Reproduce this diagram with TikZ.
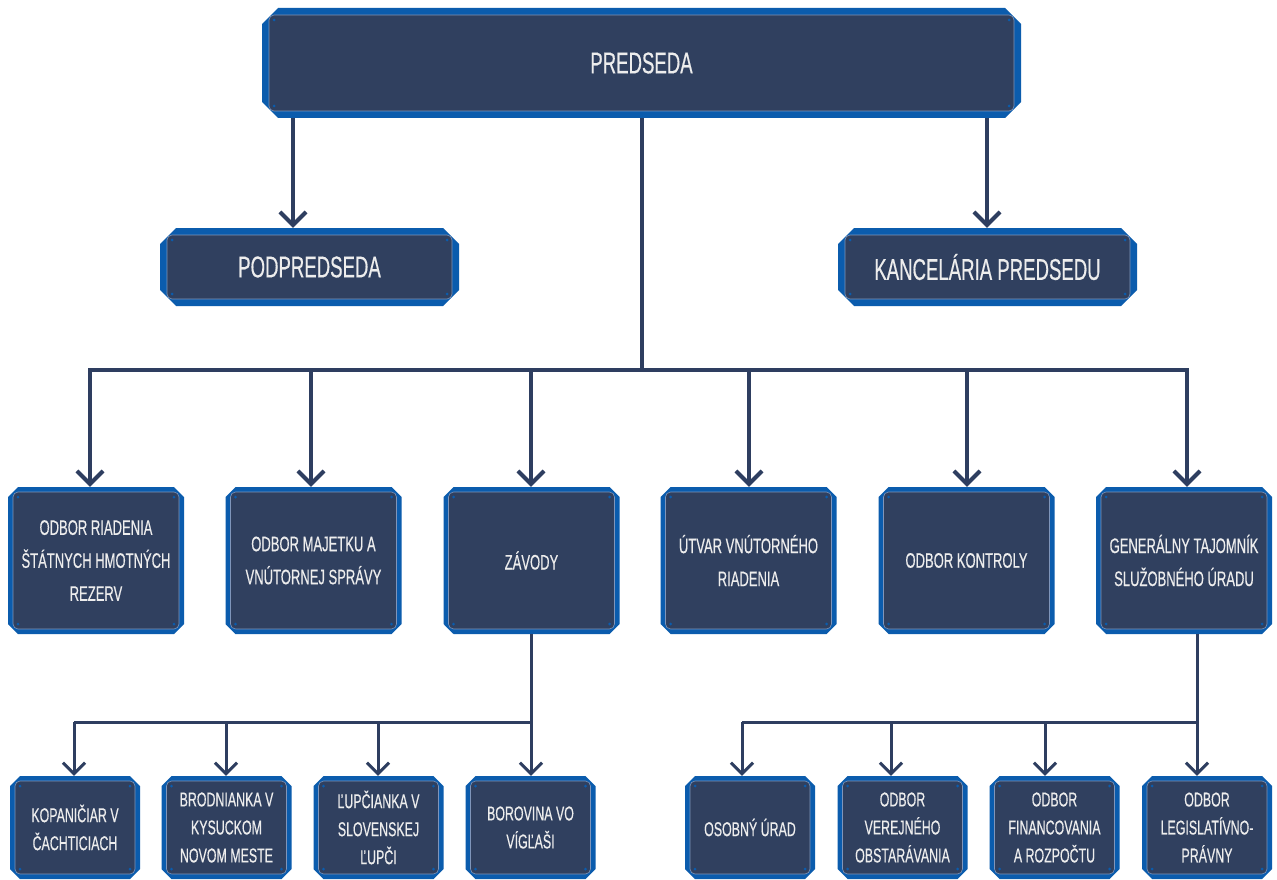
\documentclass[tikz,border=0pt]{standalone}
\usepackage{fontspec}
\setmainfont[FakeStretch=0.62, FakeBold=0.4]{Liberation Sans}
\usetikzlibrary{arrows.meta,shapes.misc}
\definecolor{boxblue}{HTML}{0B5CAD}
\definecolor{navy}{HTML}{30405F}
\definecolor{edge}{HTML}{7F95BA}
\definecolor{linec}{HTML}{2E3E60}
\definecolor{txt}{HTML}{EDEDED}
\tikzset{
  orgbox/.style 2 args={chamfered rectangle, chamfered rectangle xsep=#1,
    chamfered rectangle ysep=#1, fill=boxblue, text=txt, align=center,
    inner sep=0pt,
    path picture={
      \fill[navy,draw=edge,line width=0.6pt,rounded corners=5pt]
        ([xshift=#2,yshift=-#2]path picture bounding box.north west) rectangle
        ([xshift=-#2,yshift=#2]path picture bounding box.south east);
      \fill[boxblue] ([xshift=#2+5pt,yshift=-#2-5pt]path picture bounding box.north west) circle (1.5pt);
      \fill[boxblue] ([xshift=-#2-5pt,yshift=-#2-5pt]path picture bounding box.north east) circle (1.5pt);
      \fill[boxblue] ([xshift=#2+5pt,yshift=#2+5pt]path picture bounding box.south west) circle (1.5pt);
      \fill[boxblue] ([xshift=-#2-5pt,yshift=#2+5pt]path picture bounding box.south east) circle (1.5pt);
    }},
  topbox/.style={orgbox={8pt}{7pt}, font=\fontsize{30}{34}\selectfont},
  midbox/.style={orgbox={5pt}{5pt}, minimum width=176pt, minimum height=147pt,
    font=\fontsize{21}{33}\selectfont},
  lowbox/.style={orgbox={5pt}{5pt}, minimum width=130pt, minimum height=103pt,
    font=\fontsize{20}{28}\selectfont},
  ln/.style={draw=linec, line width=4pt},
  lnt/.style={draw=linec, line width=3pt},
  arr/.style={ln, -{Straight Barb[length=13pt,width=26pt]}},
  arrt/.style={lnt, -{Straight Barb[length=11pt,width=22pt]}},
}
\begin{document}
\begin{tikzpicture}[x=1pt,y=-1pt]
\useasboundingbox[fill=white] (0,0) rectangle (1277,880);
% top
\node[topbox, minimum width=759pt, minimum height=110pt] (pred) at (641.5,63) {PREDSEDA};
\node[topbox, minimum width=299pt, minimum height=78pt] (podp) at (309.5,267) {PODPREDSEDA};
\node[topbox, minimum width=299pt, minimum height=78pt] (kanc) at (987.5,267) {KANCELÁRIA PREDSEDU};
% row 2
\node[midbox] (b1) at (96,560.5) {ODBOR RIADENIA\\ŠTÁTNYCH HMOTNÝCH\\REZERV};
\node[midbox] (b2) at (313.5,560.5) {ODBOR MAJETKU A\\VNÚTORNEJ SPRÁVY};
\node[midbox] (b3) at (531.5,560.5) {ZÁVODY};
\node[midbox] (b4) at (748.5,560.5) {ÚTVAR VNÚTORNÉHO\\RIADENIA};
\node[midbox] (b5) at (966.5,560.5) {ODBOR KONTROLY};
\node[midbox] (b6) at (1184,560.5) {GENERÁLNY TAJOMNÍK\\SLUŽOBNÉHO ÚRADU};
% row 3
\node[lowbox] (c1) at (75,827.5) {KOPANIČIAR V\\ČACHTICIACH};
\node[lowbox] (c2) at (226.5,827.5) {BRODNIANKA V\\KYSUCKOM\\NOVOM MESTE};
\node[lowbox] (c3) at (378.5,827.5) {ĽUPČIANKA V\\SLOVENSKEJ\\ĽUPČI};
\node[lowbox] (c4) at (530.5,827.5) {BOROVINA VO\\VÍGĽAŠI};
\node[lowbox] (d1) at (750,827.5) {OSOBNÝ ÚRAD};
\node[lowbox] (d2) at (902.5,827.5) {ODBOR\\VEREJNÉHO\\OBSTARÁVANIA};
\node[lowbox] (d3) at (1054.5,827.5) {ODBOR\\FINANCOVANIA\\A ROZPOČTU};
\node[lowbox] (d4) at (1207,827.5) {ODBOR\\LEGISLATÍVNO-\\PRÁVNY};
% top connectors
\coordinate (p1) at (293,0);
\coordinate (p2) at (987,0);
\draw[arr] (pred.south -| p1) -- (podp.north -| p1);
\draw[arr] (pred.south -| p2) -- (kanc.north -| p2);
% trunk and bar
\coordinate (j1) at (90,370);
\coordinate (j2) at (311,370);
\coordinate (j3) at (531,370);
\coordinate (j4) at (749,370);
\coordinate (j5) at (967,370);
\coordinate (j6) at (1187,370);
\draw[ln] (pred.south) -- (pred.south |- j1);
\draw[ln, line cap=rect] (j1) -- (j6);
\foreach \j/\b in {j1/b1,j2/b2,j3/b3,j4/b4,j5/b5,j6/b6}
  \draw[arr] (\j) -- (\j |- \b.north);
% zavody branch
\coordinate (k1) at (74,722);
\coordinate (k2) at (226,722);
\coordinate (k3) at (378,722);
\coordinate (k4) at (531,722);
\draw[lnt] (b3.south -| k4) -- (k4);
\draw[lnt] (k1) -- (k4);
\foreach \k/\c in {k1/c1,k2/c2,k3/c3,k4/c4}
  \draw[arrt] (\k) -- (\k |- \c.north);
% generalny branch
\coordinate (m1) at (742,722);
\coordinate (m2) at (891,722);
\coordinate (m3) at (1045,722);
\coordinate (m4) at (1197,722);
\draw[lnt] (b6.south -| m4) -- (m4);
\draw[lnt] (m1) -- (m4);
\foreach \m/\d in {m1/d1,m2/d2,m3/d3,m4/d4}
  \draw[arrt] (\m) -- (\m |- \d.north);
\end{tikzpicture}
\end{document}
